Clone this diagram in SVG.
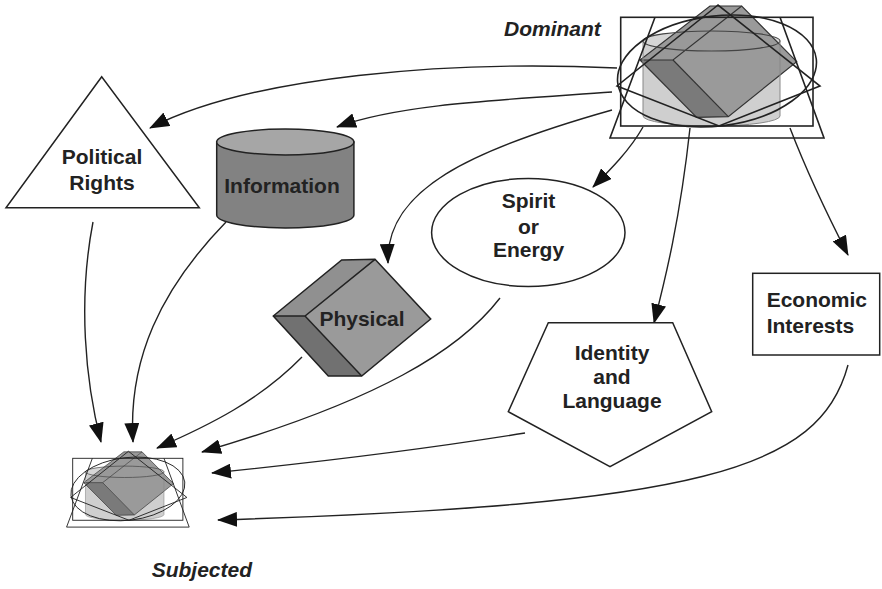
<svg xmlns="http://www.w3.org/2000/svg" xmlns:xlink="http://www.w3.org/1999/xlink" width="882" height="589" viewBox="0 0 882 589">
  <style>
    .lbl { font-family: "Liberation Sans", Arial, Helvetica, sans-serif; font-weight: bold; font-size: 21px; fill: #222; }
    .mid { text-anchor: middle; }
    .ital { font-style: italic; }
    .shape { stroke: #222; stroke-width: 1.5; stroke-linejoin: miter; }
    .outline { fill: none; stroke: #222; stroke-width: 1.6; }
    .conn path { fill: none; stroke: #222; stroke-width: 1.4; marker-end: url(#head); }
  </style>
  <defs>
    <marker id="head" viewBox="0 0 20 15" refX="19" refY="7.5" markerWidth="20" markerHeight="15" markerUnits="userSpaceOnUse" orient="auto">
      <path d="M0,0 L20,7.5 L0,15 z" fill="#111"/>
    </marker>
    <!-- all six shapes stacked on top of each other -->
    <g id="blend">
      <!-- cylinder -->
      <path d="M643,41 L643,116 A68.5,10 0 0 0 780,116 L780,41 Z" fill="#cfcfcf"/>
      <ellipse cx="711.5" cy="41" rx="68.5" ry="10" fill="#d6d6d6"/>
      <!-- cube -->
      <polygon points="710,6 741.7,6 673,60 640,60" fill="#999"/>
      <polygon points="741.7,6 796.7,61.7 728.3,116.7 673,60" fill="#9a9a9a"/>
      <polygon points="640,60 673,60 728.3,116.7 696.7,117.3" fill="#7a7a7a"/>
      <polygon points="710,6 741.7,6 796.7,61.7 728.3,116.7 696.7,117.3 640,60" fill="none" stroke="#333" stroke-width="1.2"/>
      <polyline points="741.7,6 673,60 640,60" fill="none" stroke="#333" stroke-width="1.2"/>
      <line x1="673" y1="60" x2="728.3" y2="116.7" stroke="#333" stroke-width="1.2"/>
      <!-- cylinder rims -->
      <ellipse cx="711.5" cy="41" rx="68.5" ry="10" fill="none" stroke="#444" stroke-width="1.2"/>
      <path d="M643,41 L643,116 A68.5,10 0 0 0 780,116 L780,41" fill="none" stroke="#888" stroke-width="1"/>
      <!-- ellipse -->
      <ellipse cx="717" cy="71" rx="100" ry="55" transform="rotate(-7 717 71)" class="outline"/>
      <!-- rectangle -->
      <rect x="620.7" y="17.3" width="192.3" height="108.7" class="outline"/>
      <!-- triangle -->
      <polyline points="655,17.3 610,138 824,138 780,17.3" class="outline"/>
      <!-- pentagon -->
      <polygon points="718,5 617,86 719,126 820,86" class="outline"/>
    </g>
  </defs>

  <!-- connectors -->
  <g id="connectors" class="conn">
    <path d="M617,68 C450,60 250,76 150,128"/>
    <path d="M612,92 C500,100 400,104 337,127"/>
    <path d="M612,110 C470,150 385,190 388,263"/>
    <path d="M643,127 C630,150 610,170 593,187"/>
    <path d="M690,128 C680,220 665,280 654,323"/>
    <path d="M790,128 C810,180 830,220 848,255"/>
    <path d="M93,222 C78,300 85,380 101,442"/>
    <path d="M226,222 C160,290 128,360 133,442"/>
    <path d="M302,357 C260,400 210,425 157,448"/>
    <path d="M500,298 C460,350 380,400 202,452"/>
    <path d="M525,433 C420,450 320,462 212,473"/>
    <path d="M848,365 C820,470 700,505 218,520"/>
  </g>

  <g id="dominant">
    <use xlink:href="#blend"/>
    <text x="504" y="36" class="lbl ital">Dominant</text>
  </g>

  <g id="political-rights">
    <polygon points="101.7,76.7 6,207.7 199.3,207.7" fill="#fff" class="shape"/>
    <text x="102" y="164" class="lbl mid">Political</text>
    <text x="102" y="190" class="lbl mid">Rights</text>
  </g>

  <g id="information">
    <path d="M216.7,142 L216.7,215 A68.6,13 0 0 0 353.9,215 L353.9,142 Z" fill="#828282" class="shape"/>
    <ellipse cx="285.3" cy="142" rx="68.6" ry="13" fill="#a6a6a6" class="shape"/>
    <text x="282" y="193" class="lbl mid">Information</text>
  </g>

  <g id="physical">
    <polygon points="341.7,260 375,259.3 305,316 273.3,316" fill="#909090"/>
    <polygon points="375,259.3 430.7,319 361.7,376 305,316" fill="#9a9a9a"/>
    <polygon points="273.3,316 305,316 361.7,376 328.3,376" fill="#717171"/>
    <polygon points="341.7,260 375,259.3 430.7,319 361.7,376 328.3,376 273.3,316" fill="none" class="shape"/>
    <polyline points="375,259.3 305,316 273.3,316" fill="none" class="shape"/>
    <line x1="305" y1="316" x2="361.7" y2="376" class="shape"/>
    <text x="362" y="326" class="lbl mid">Physical</text>
  </g>

  <g id="spirit">
    <ellipse cx="528.3" cy="232.5" rx="96.7" ry="54" fill="#fff" class="shape"/>
    <text x="528.5" y="208" class="lbl mid">Spirit</text>
    <text x="528.5" y="234" class="lbl mid">or</text>
    <text x="528.5" y="257" class="lbl mid">Energy</text>
  </g>

  <g id="identity">
    <polygon points="548.3,322.7 672.7,322.7 711.7,411.7 610,466.7 508.3,411.7" fill="#fff" class="shape"/>
    <text x="612" y="360" class="lbl mid">Identity</text>
    <text x="612" y="384" class="lbl mid">and</text>
    <text x="612" y="408" class="lbl mid">Language</text>
  </g>

  <g id="economic">
    <rect x="752.7" y="273.3" width="127" height="81.7" fill="#fff" class="shape"/>
    <text x="766.7" y="307" class="lbl">Economic</text>
    <text x="766.7" y="333" class="lbl">Interests</text>
  </g>

  <g id="subjected">
    <use xlink:href="#blend" transform="translate(72.7,458.3) scale(0.573,0.57) translate(-620.7,-17.3)"/>
    <text x="151.7" y="577" class="lbl ital">Subjected</text>
  </g>
</svg>
